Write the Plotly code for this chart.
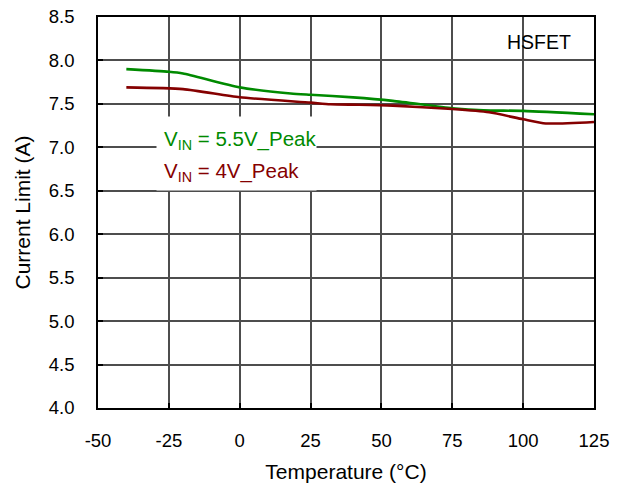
import plotly.graph_objects as go

temp_55 = [-40, -25, -20, 0, 18, 25, 40, 54, 75, 86, 100, 125]
ilim_55 = [7.90, 7.87, 7.85, 7.69, 7.62, 7.605, 7.575, 7.535, 7.45, 7.425, 7.42, 7.38]

temp_4 = [-40, -20, 0, 25, 32, 42, 54, 75, 88, 100, 108, 125]
ilim_4 = [7.69, 7.67, 7.576, 7.514, 7.495, 7.49, 7.48, 7.441, 7.403, 7.323, 7.275, 7.292]

x_ticks = [-50, -25, 0, 25, 50, 75, 100, 125]
y_ticks = [4.0, 4.5, 5.0, 5.5, 6.0, 6.5, 7.0, 7.5, 8.0, 8.5]

GREEN = "#008a00"
RED = "#850000"
FONT = "Liberation Sans, Arial, sans-serif"

fig = go.Figure()
fig.add_trace(go.Scatter(x=temp_55, y=ilim_55, mode="lines",
                         line=dict(color=GREEN, width=2.6, shape="spline", smoothing=0.6),
                         showlegend=False))
fig.add_trace(go.Scatter(x=temp_4, y=ilim_4, mode="lines",
                         line=dict(color=RED, width=2.6, shape="spline", smoothing=0.6),
                         showlegend=False))

# white label background covering the grid behind the labels
fig.add_annotation(x=(236.5 - 98) / 496, y=(408 - 153.5) / 391, xref="paper", yref="paper",
                   xanchor="center", yanchor="middle", text=" ", showarrow=False,
                   width=159, height=73, bgcolor="white", borderpad=0,
                   font=dict(size=4))

fig.add_annotation(x=-27.3, y=7.09, xref="x", yref="y", xanchor="left", yanchor="middle",
                   text="V<sub>IN</sub> = 5.5V_Peak", showarrow=False,
                   font=dict(family=FONT, size=20.5, color=GREEN))
fig.add_annotation(x=-27.3, y=6.72, xref="x", yref="y", xanchor="left", yanchor="middle",
                   text="V<sub>IN</sub> = 4V_Peak", showarrow=False,
                   font=dict(family=FONT, size=20.5, color=RED))
fig.add_annotation(x=117.5, y=8.21, xref="x", yref="y", xanchor="right", yanchor="middle",
                   text="HSFET", showarrow=False,
                   font=dict(family=FONT, size=19.5, color="black"))

axis_common = dict(showgrid=True, gridcolor="#4d4d4d", gridwidth=1.5,
                   showline=True, linecolor="black", linewidth=1.5, mirror=True,
                   zeroline=False, tickfont=dict(family=FONT, size=18.5, color="black"),
                   ticks="inside", ticklen=5, tickcolor="black", tickwidth=1.5,
                   automargin=False)

fig.update_xaxes(range=[-50, 125], tickvals=x_ticks, ticktext=[str(v) for v in x_ticks],
                 ticklabelstandoff=15,
                 title=dict(text="Temperature (°C)", font=dict(family=FONT, size=21, color="black"), standoff=14),
                 **axis_common)
fig.update_yaxes(range=[4.0, 8.5], tickvals=y_ticks, ticktext=[f"{v:.1f}" for v in y_ticks],
                 ticklabelstandoff=18,
                 title=dict(text="Current Limit (A)", font=dict(family=FONT, size=21, color="black"), standoff=12),
                 **axis_common)

fig.update_layout(width=622, height=489, margin=dict(l=98, r=28, t=17, b=81),
                  plot_bgcolor="white", paper_bgcolor="white",
                  font=dict(family=FONT, color="black"))

fig.write_html("out.html")
